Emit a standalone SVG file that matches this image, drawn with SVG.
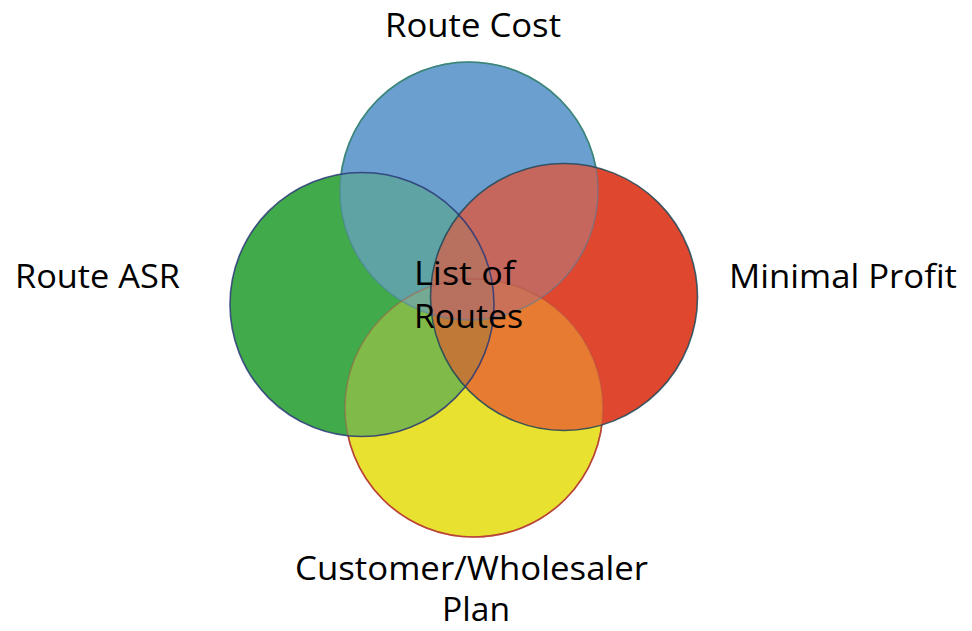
<svg xmlns="http://www.w3.org/2000/svg" width="972" height="631" viewBox="0 0 972 631">
<style>
.lbl{font-family:"Open Sans","Liberation Sans",sans-serif;font-size:33px;fill:#000;}
.edge{fill:none;stroke-width:1.6;}
</style>
<defs>
<clipPath id="cB"><circle cx="469" cy="191" r="129"/></clipPath>
<clipPath id="cG"><circle cx="362" cy="304.5" r="132"/></clipPath>
<clipPath id="cR"><circle cx="564" cy="297" r="133.5"/></clipPath>
<clipPath id="cY"><circle cx="474" cy="408" r="129"/></clipPath>
</defs>
<rect width="972" height="631" fill="#fff"/>
<g id="circles">
<g id="node-route-cost">
<circle cx="469" cy="191" r="129" fill="#6b9fd0"/>
<circle class="edge" cx="469" cy="191" r="129" stroke="#2f8a58"/>
</g>
<g id="node-plan">
<circle cx="474" cy="408" r="129" fill="#e8e12f"/>
<circle class="edge" cx="474" cy="408" r="129" stroke="#c0392b"/>
</g>
<g id="node-route-asr">
<circle cx="362" cy="304.5" r="132" fill="#41aa4a"/>
</g>
<g id="node-minimal-profit">
<circle cx="564" cy="297" r="133.5" fill="#e0472f"/>
</g>
<g id="overlaps">
<g clip-path="url(#cB)">
<circle cx="362" cy="304.5" r="132" fill="#5fa3a5"/>
<circle cx="564" cy="297" r="133.5" fill="#c6675e"/>
</g>
<g clip-path="url(#cY)">
<circle cx="362" cy="304.5" r="132" fill="#80ba48"/>
<circle cx="564" cy="297" r="133.5" fill="#e67b31"/>
</g>
<g clip-path="url(#cB)"><g clip-path="url(#cY)">
<circle cx="474" cy="408" r="129" fill="#9cb27a"/>
<circle cx="362" cy="304.5" r="132" fill="#74aa93"/>
<circle cx="564" cy="297" r="133.5" fill="#cb7158"/>
</g></g>
<g clip-path="url(#cG)">
<circle cx="564" cy="297" r="133.5" fill="#b8705f"/>
</g>
<g clip-path="url(#cG)"><g clip-path="url(#cY)">
<circle cx="564" cy="297" r="133.5" fill="#c07a37"/>
</g></g>
<g clip-path="url(#cG)"><g clip-path="url(#cB)">
<circle cx="564" cy="297" r="133.5" fill="#b8705f"/>
</g></g>
</g>
<g id="outlines">
<circle class="edge" cx="469" cy="191" r="129" stroke="#4a7fa0" stroke-opacity="0.5"/>
<circle class="edge" cx="474" cy="408" r="129" stroke="#b0504a" stroke-opacity="0.45"/>
<circle class="edge" cx="362" cy="304.5" r="132" stroke="#2b3a78" stroke-opacity="0.85"/>
<circle class="edge" cx="564" cy="297" r="133.5" stroke="#1f4a5a" stroke-opacity="0.85"/>
</g>
</g>
<g id="connectors"></g>
<g id="labels">
<text class="lbl" x="385" y="37" textLength="176" lengthAdjust="spacingAndGlyphs">Route Cost</text>
<text class="lbl" x="15" y="288" textLength="165" lengthAdjust="spacingAndGlyphs">Route ASR</text>
<text class="lbl" x="729" y="288" textLength="228" lengthAdjust="spacingAndGlyphs">Minimal Profit</text>
<text class="lbl" x="414" y="285" textLength="101" lengthAdjust="spacingAndGlyphs">List of</text>
<text class="lbl" x="414" y="328" textLength="109" lengthAdjust="spacingAndGlyphs">Routes</text>
<text class="lbl" x="295" y="580" textLength="353" lengthAdjust="spacingAndGlyphs">Customer/Wholesaler</text>
<text class="lbl" x="442" y="621" textLength="68" lengthAdjust="spacingAndGlyphs">Plan</text>
</g>
</svg>
